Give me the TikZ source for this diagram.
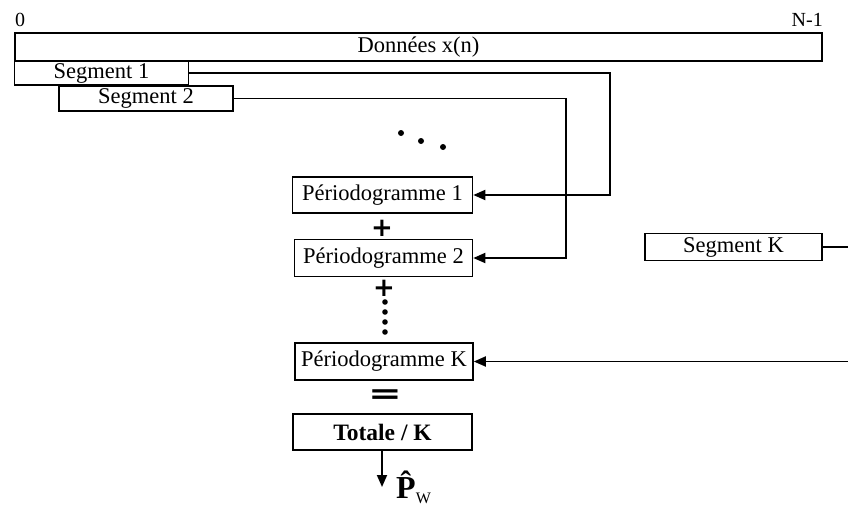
\documentclass[tikz,border=0pt]{standalone}
\usepackage{fontspec}
\setmainfont{Liberation Serif}
\newfontfamily\symfont{DejaVu Sans}
\usetikzlibrary{arrows.meta}
\begin{document}
\begin{tikzpicture}[x=1pt,y=-1pt,
  box/.style={draw=black,line width=1.6pt,inner sep=0pt,minimum width=#1,font=\fontsize{22.5}{24}\selectfont},
  arr/.style={line width=1.8pt,-{Triangle[length=12pt,width=10pt]}},
  sym/.style={font=\fontsize{26}{26}\symfont\bfseries,inner sep=0pt},
  lbl/.style={font=\fontsize{20}{21}\selectfont,inner sep=0pt}
]
\useasboundingbox (0,0) rectangle (848,506);
% labels
\node[lbl,anchor=base west] (zero) at (15,27) {0};
\node[lbl,anchor=base east] (nm1) at (823,27) {N-1};
% data and segments
\node[box=807pt,minimum height=28pt] (d) at (418.5,47) {Données x(n)};
\node[box=174pt,minimum height=24pt] (s1) at (101.5,73) {Segment 1};
\node[box=174pt,minimum height=25pt] (s2) at (146,98.5) {Segment 2};
\node[box=177pt,minimum height=27pt] (sK) at (733.5,247) {Segment K};
% periodograms
\node[box=180pt,minimum height=36pt] (p1) at (382.5,195) {Périodogramme 1};
\node[box=178pt,minimum height=37pt] (p2) at (383.5,258) {Périodogramme 2};
\node[box=178pt,minimum height=37pt] (pK) at (384,361.5) {Périodogramme K};
\node[box=179pt,minimum height=36pt,font=\fontsize{23.5}{25}\selectfont\bfseries] (tot) at (382.5,432) {Totale / K};
% symbols
\node[sym] (plus1) at (382,228) {+};
\node[sym] (plus2) at (384,288) {+};
\node[sym] (eq) at (385,397) {\scalebox{1.55}[1.1]{=}};
% dots
\foreach \x/\y in {401/133,421/141,443/147}
  \fill (\x,\y) circle (3pt);
\foreach \y in {302,312,322,332}
  \fill (385,\y) circle (2.8pt);
% corners
\coordinate (c1) at (610,195);
\coordinate (c2) at (566,258);
\coordinate (c3) at (852,361.5);
\coordinate (out) at (382,487);
% connectors
\draw[arr] (s1.east) -| (c1) -- (p1.east);
\draw[arr] (s2.east) -| (c2) -- (p2.east);
\draw[arr] (sK.east) -| (c3) -- (pK.east);
\draw[arr] (tot.south -| out) -- (out);
% output label
\node[anchor=base west,inner sep=0pt,font=\fontsize{32}{32}\selectfont\bfseries] (pw) at (396,498) {\^{P}\raisebox{-5pt}{\mdseries\fontsize{16}{16}\selectfont W}};
\end{tikzpicture}
\end{document}
